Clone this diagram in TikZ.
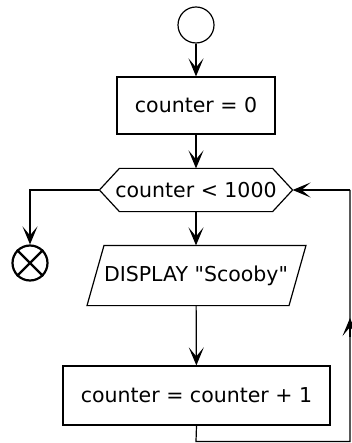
\documentclass[tikz,border=0pt]{standalone}
\usepackage{fontspec}
\setmainfont{DejaVu Sans}[Ligatures=TeXOff]
\usetikzlibrary{arrows.meta,calc}
\begin{document}
\begin{tikzpicture}[x=1pt,y=-1pt,
  line width=1.2pt,
  font=\fontsize{20.5}{24}\selectfont,
  flow/.style={-{Stealth[length=18pt,width=15pt,inset=9pt]}},
  boxnode/.style={draw, rectangle, inner sep=0pt},
  ghost/.style={inner sep=0pt, rectangle},
  startnode/.style={circle, draw, inner sep=0pt, minimum size=36pt},
  endnode/.style={circle, draw, line width=2.2pt, inner sep=0pt, minimum size=35pt}
]
\useasboundingbox (0,0) rectangle (351,443);

% nodes
\node[startnode] (start) at (196,25) {};
\node[boxnode, minimum width=158pt, minimum height=57pt] (init) at (196,105.5) {counter = 0};
\node[ghost, minimum width=192pt, minimum height=42pt] (test) at (196,190) {counter < 1000};
\node[ghost, minimum width=190pt, minimum height=59pt] (disp) at (196,275.5) {DISPLAY "Scooby"};
\node[boxnode, minimum width=267pt, minimum height=59pt] (inc) at (196.5,395.5) {counter = counter + 1};
\node[endnode] (stop) at (30,263) {};

% decision hexagon outline
\draw (test.west) -- ($(test.north west)+(20,0)$) -- ($(test.north east)+(-20,0)$)
  -- (test.east) -- ($(test.south east)+(-20,0)$) -- ($(test.south west)+(20,0)$) -- cycle;

% input/output parallelogram outline
\draw ($(disp.north)+(-92,0)$) -- ($(disp.north)+(110,0)$)
  -- ($(disp.south)+(93,0)$) -- ($(disp.south)+(-109,0)$) -- cycle;

% end symbol cross
\draw[line width=2.2pt] (stop.north west) -- (stop.south east)
  (stop.north east) -- (stop.south west);

% connectors
\draw[flow] (start) -- (init);
\draw[flow] (init) -- (test);
\draw[flow] (test) -- (disp);
\draw[flow] (disp) -- (inc);
\draw[flow] (test.west) -| (stop.north);

\coordinate (lb) at (196,441.5);
\coordinate (rb) at (350,441.5);
\coordinate (rt) at (350,190);
\coordinate (mA) at (350,337);
\coordinate (mB) at (350,318);
\draw (inc.south) -- (lb) -- (rb) -- (rt);
\draw[flow] (rt) -- (test.east);
\draw[flow] (mA) -- (mB);
\end{tikzpicture}
\end{document}
